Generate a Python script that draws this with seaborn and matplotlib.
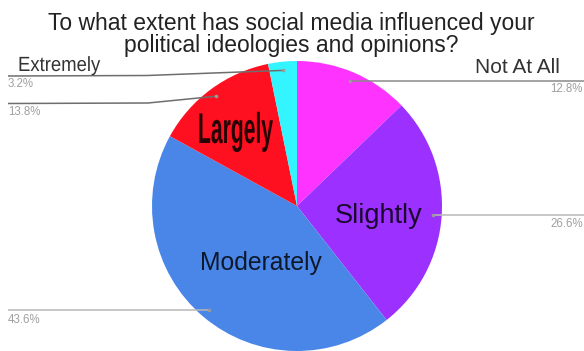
import matplotlib
matplotlib.use("Agg")
import matplotlib.pyplot as plt
import numpy as np
import seaborn as sns
from matplotlib.patheffects import AbstractPathEffect
from matplotlib.transforms import Affine2D

# ---- data ----
categories = ["Not At All", "Slightly", "Moderately", "Largely", "Extremely"]
values = [12.8, 26.6, 43.6, 13.8, 3.2]
pct_labels = ["12.8%", "26.6%", "43.6%", "13.8%", "3.2%"]
colors = ["#FF33FF", "#9B30FF", "#4A86E8", "#FF1020", "#33F5FF"]
title = "To what extent has social media influenced your\npolitical ideologies and opinions?"

sns.set_theme(style="white")
plt.rcParams["font.family"] = ["Liberation Sans", "DejaVu Sans"]


class Stretch(AbstractPathEffect):
    """Draw text with a non-uniform scale about its left/baseline origin."""
    def __init__(self, sx=1.0, sy=1.0):
        super().__init__()
        self.sx, self.sy = sx, sy

    def draw_path(self, renderer, gc, tpath, affine, rgbFace=None):
        renderer.draw_path(gc, tpath, Affine2D().scale(self.sx, self.sy) + affine, rgbFace)


W, H = 584, 351
fig = plt.figure(figsize=(W / 100, H / 100), dpi=100)
ax = fig.add_axes([0, 0, 1, 1])

CX, CY, R = 297, H - 206, 145
wedges, _ = ax.pie(values, colors=colors, startangle=90, counterclock=False,
                   center=(CX, CY), radius=R, wedgeprops=dict(linewidth=0))
ax.set_xlim(0, W)
ax.set_ylim(0, H)
ax.set_aspect("equal")
ax.axis("off")


def Y(y):
    return H - y


# anchor dots at the wedge mid-angles
dots = []
for w in wedges:
    a = np.deg2rad((w.theta1 + w.theta2) / 2)
    dots.append((CX + 0.94 * R * np.cos(a), CY + 0.94 * R * np.sin(a)))

# leader lines
leaders = {
    "Not At All": ([W], None, "#8a8a8a"),
    "Slightly": ([W], None, "#b8b8b8"),
    "Moderately": ([8], None, "#b8b8b8"),
    "Largely": ([148, 8], [Y(103), Y(103.5)], "#6e6e6e"),
    "Extremely": ([147, 8], [Y(75.5), Y(76)], "#6e6e6e"),
}
for cat, (dx, dy) in zip(categories, dots):
    xs, ys, col = leaders[cat]
    if ys is None:
        ys = [dy] * len(xs)
    ax.plot([dx] + xs, [dy] + ys, color=col, lw=1.1, solid_capstyle="butt", zorder=3)
    ax.plot(dx, dy, "o", color="#9a9a9a", ms=2.6, mew=0, zorder=4)

# percentage labels
pct_pos = {
    "Not At All": (583, 92, "right"),
    "Slightly": (583, 227, "right"),
    "Moderately": (8, 323, "left"),
    "Largely": (8, 115, "left"),
    "Extremely": (8, 87, "left"),
}
for cat, lab in zip(categories, pct_labels):
    x, yb, ha = pct_pos[cat]
    ax.text(x, Y(yb), lab, ha=ha, va="baseline", fontsize=8.3, color="#a0a0a0", zorder=5)

# category labels
ax.text(475, Y(73), "Not At All", ha="left", va="baseline", fontsize=15, color="#333333")
ax.text(335, Y(223), "Slightly", ha="left", va="baseline", fontsize=19.5, color="black", alpha=0.82)
ax.text(200, Y(270), "Moderately", ha="left", va="baseline", fontsize=17.8, color="black", alpha=0.82)
ax.text(198, Y(143), "Largely", ha="left", va="baseline", fontsize=31, fontweight="bold",
        color="black", alpha=0.85, path_effects=[Stretch(0.49, 1.0)])
ax.text(18, Y(71), "Extremely", ha="left", va="baseline", fontsize=14.8, color="#333333",
        path_effects=[Stretch(0.9, 1.0)])

# title
ax.text(291, Y(52), title, ha="center", va="baseline", fontsize=16.5, color="#222222",
        linespacing=0.95, multialignment="center")

fig.savefig("out.png", dpi=100)
